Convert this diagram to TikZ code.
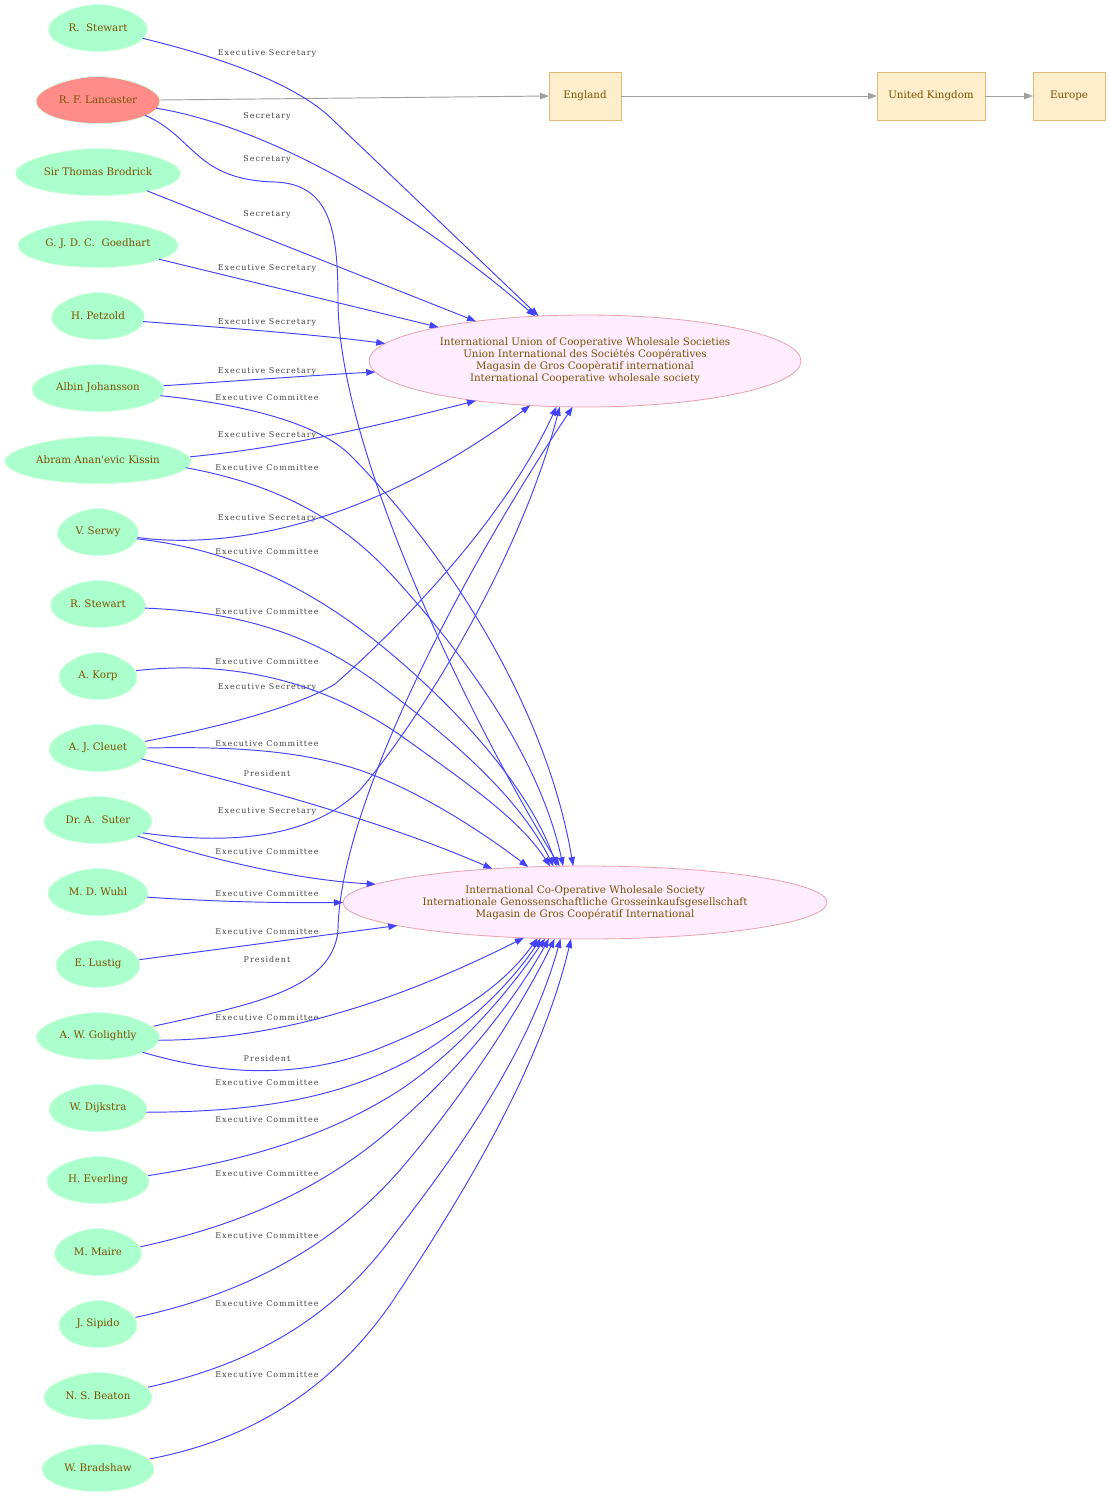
\documentclass[tikz,border=0pt]{standalone}
\usepackage{fontspec}
\setmainfont{DejaVu Serif}
\newfontfamily\nfont[Ligatures=TeXOff]{DejaVu Serif}
\newfontfamily\efont[Ligatures=TeXOff,LetterSpace=12]{DejaVu Serif}
\usetikzlibrary{arrows.meta,shapes.geometric,backgrounds,calc}
\definecolor{mint}{HTML}{AAFFCC}
\definecolor{salmon}{HTML}{FF8C88}
\definecolor{eggline}{HTML}{D6FFE0}
\definecolor{txt}{HTML}{7A5200}
\definecolor{lblc}{HTML}{444444}
\definecolor{eblue}{HTML}{4242FF}
\definecolor{orgfill}{HTML}{FFECFF}
\definecolor{orgline}{HTML}{E8A2AA}
\definecolor{boxfill}{HTML}{FFEECC}
\definecolor{boxline}{HTML}{E4B878}
\definecolor{gedge}{HTML}{A0A0A0}
\tikzset{
 pers/.style={ellipse, minimum width=#1, minimum height=47pt, inner sep=0pt, outer sep=0pt, text=txt, font=\nfont\fontsize{10.3}{12}\selectfont},
 org/.style={ellipse, draw=orgline, fill=orgfill, line width=0.8pt, inner sep=0pt, outer sep=0pt, text=txt, align=center, font=\nfont\fontsize{10.3}{12}\selectfont},
 geo/.style={rectangle, draw=boxline, fill=boxfill, line width=0.8pt, minimum height=48pt, inner sep=0pt, outer sep=0pt, text=txt, font=\nfont\fontsize{10.3}{12}\selectfont},
 elbl/.style={text=lblc, font=\efont\fontsize{8}{9}\selectfont, inner sep=0pt},
 rel/.style={draw=eblue, line width=0.95pt, -{Triangle[length=9pt,width=6.5pt]}},
 grel/.style={draw=gedge, line width=0.95pt, -{Triangle[length=9pt,width=6.5pt]}},
}
\newcommand\drawegg[2]{%
  \path[fill=#2,draw=eggline,line width=0.8pt] let \p1=(#1.center), \p2=(#1.east), \n1={\x2-\x1} in
    (\x1,{\y1-23.5pt})
    .. controls ({\x1+0.58*\n1},{\y1-23.5pt}) and ({\x1+\n1},{\y1-0.58*23.5pt}) .. ({\x1+\n1},{\y1-0.05*23.5pt})
    .. controls ({\x1+\n1},{\y1+0.5*23.5pt}) and ({\x1+0.42*\n1},{\y1+23.5pt}) .. (\x1,{\y1+23.5pt})
    .. controls ({\x1-0.42*\n1},{\y1+23.5pt}) and ({\x1-\n1},{\y1+0.5*23.5pt}) .. ({\x1-\n1},{\y1-0.05*23.5pt})
    .. controls ({\x1-\n1},{\y1-0.58*23.5pt}) and ({\x1-0.58*\n1},{\y1-23.5pt}) .. cycle;
}
\begin{document}
\frenchspacing
\begin{tikzpicture}[x=1pt,y=-1pt]
\useasboundingbox (0,0) rectangle (1109,1499);
% people
\node[pers=99pt]  (rsa)  at (98,28)   {R.~~Stewart};
\node[pers=124pt] (lan)  at (98,100)  {R. F. Lancaster};
\node[pers=165pt] (brod) at (98,172)  {Sir Thomas Brodrick};
\node[pers=160pt] (goed) at (98,244)  {G. J. D. C.~~Goedhart};
\node[pers=93pt]  (petz) at (98,316)  {H. Petzold};
\node[pers=132pt] (joh)  at (98,388)  {Albin Johansson};
\node[pers=186pt] (kis)  at (98,460)  {Abram Anan'evic Kissin};
\node[pers=81pt]  (ser)  at (98,532)  {V. Serwy};
\node[pers=95pt]  (rsb)  at (98,604)  {R. Stewart};
\node[pers=78pt]  (korp) at (98,676)  {A. Korp};
\node[pers=98pt]  (cle)  at (98,748)  {A. J. Cleuet};
\node[pers=108pt] (sut)  at (98,820)  {Dr. A.~~Suter};
\node[pers=100pt] (wuhl) at (98,892)  {M. D. Wuhl};
\node[pers=84pt]  (lus)  at (98,964)  {E. Lustig};
\node[pers=123pt] (gol)  at (98,1036) {A. W. Golightly};
\node[pers=98pt]  (dij)  at (98,1108) {W. Dijkstra};
\node[pers=102pt] (eve)  at (98,1180) {H. Everling};
\node[pers=87pt]  (mai)  at (98,1252) {M. Maire};
\node[pers=78pt]  (sip)  at (98,1324) {J. Sipido};
\node[pers=108pt] (bea)  at (98,1396) {N. S. Beaton};
\node[pers=112pt] (bra)  at (98,1468) {W. Bradshaw};
\begin{scope}[on background layer]
\drawegg{rsa}{mint}\drawegg{lan}{salmon}\drawegg{brod}{mint}\drawegg{goed}{mint}
\drawegg{petz}{mint}\drawegg{joh}{mint}\drawegg{kis}{mint}\drawegg{ser}{mint}
\drawegg{rsb}{mint}\drawegg{korp}{mint}\drawegg{cle}{mint}\drawegg{sut}{mint}
\drawegg{wuhl}{mint}\drawegg{lus}{mint}\drawegg{gol}{mint}\drawegg{dij}{mint}
\drawegg{eve}{mint}\drawegg{mai}{mint}\drawegg{sip}{mint}\drawegg{bea}{mint}
\drawegg{bra}{mint}
\end{scope}
% organisations
\node[org, minimum width=432pt, minimum height=92pt] (iu) at (585,361)
  {International Union of Cooperative Wholesale Societies\\Union International des Sociétés Coopératives\\Magasin de Gros Coopèratif international\\International Cooperative wholesale society};
\node[org, minimum width=484pt, minimum height=73pt] (icws) at (585,902.5)
  {International Co-Operative Wholesale Society\\Internationale Genossenschaftliche Grosseinkaufsgesellschaft\\Magasin de Gros Coopératif International};
% places
\node[geo, minimum width=72pt]  (eng) at (585,96)   {England};
\node[geo, minimum width=108pt] (uk)  at (931,96)   {United Kingdom};
\node[geo, minimum width=72pt]  (eur) at (1069,96)  {Europe};
% edge labels
\node[elbl] (l1)  at (267,53)   {Executive Secretary};
\node[elbl] (l2)  at (267,116)  {Secretary};
\node[elbl] (l3)  at (267,159)  {Secretary};
\node[elbl] (l4)  at (267,214)  {Secretary};
\node[elbl] (l5)  at (267,268)  {Executive Secretary};
\node[elbl] (l6)  at (267,322)  {Executive Secretary};
\node[elbl] (l7)  at (267,371)  {Executive Secretary};
\node[elbl] (l8)  at (267,398)  {Executive Committee};
\node[elbl] (l9)  at (267,435)  {Executive Secretary};
\node[elbl] (l10) at (267,468)  {Executive Committee};
\node[elbl] (l11) at (267,518)  {Executive Secretary};
\node[elbl] (l12) at (267,552)  {Executive Committee};
\node[elbl] (l13) at (267,612)  {Executive Committee};
\node[elbl] (l14) at (267,662)  {Executive Committee};
\node[elbl] (l15) at (267,687)  {Executive Secretary};
\node[elbl] (l16) at (267,744)  {Executive Committee};
\node[elbl] (l17) at (267,774)  {President};
\node[elbl] (l18) at (267,811)  {Executive Secretary};
\node[elbl] (l19) at (267,852)  {Executive Committee};
\node[elbl] (l20) at (267,894)  {Executive Committee};
\node[elbl] (l21) at (267,932)  {Executive Committee};
\node[elbl] (l22) at (267,960)  {President};
\node[elbl] (l23) at (267,1018) {Executive Committee};
\node[elbl] (l24) at (267,1059) {President};
\node[elbl] (l25) at (267,1083) {Executive Committee};
\node[elbl] (l26) at (267,1120) {Executive Committee};
\node[elbl] (l27) at (267,1174) {Executive Committee};
\node[elbl] (l28) at (267,1236) {Executive Committee};
\node[elbl] (l29) at (267,1304) {Executive Committee};
\node[elbl] (l30) at (267,1375) {Executive Committee};
% place chain
\draw[grel] (lan.0) -- (eng.west);
\draw[grel] (eng) -- (uk);
\draw[grel] (uk) -- (eur);
% relations
\draw[rel] (rsa.-13) .. controls (240,62) and (303,90) .. (333,120) -- (iu.136);
\draw[rel] (lan.-8) .. controls (260,125) and (400,200) .. (iu.138);
\draw[rel] (lan.-18) .. controls (195,137) and (195,180) .. (275,182) .. controls (330,184) and (338,230) .. (338,300) .. controls (338,450) and (470,720) .. (icws.125);
\draw[rel] (brod.-21) -- (iu.160);
\draw[rel] (goed.-14) -- (iu.167);
\draw[rel] (petz.-7) .. controls (230,328) and (320,335) .. (iu.175);
\draw[rel] (joh.2) .. controls (250,380) and (320,375) .. (iu.183);
\draw[rel] (joh.-7) .. controls (250,405) and (320,425) .. (350,455) .. controls (440,545) and (545,700) .. (icws.108);
\draw[rel] (kis.2) .. controls (260,450) and (330,438) .. (iu.200);
\draw[rel] (kis.-5) .. controls (280,485) and (340,520) .. (390,573) .. controls (470,660) and (540,760) .. (icws.121);
\draw[rel] (ser.-8) .. controls (250,552) and (390,510) .. (iu.219);
\draw[rel] (ser.-10) .. controls (240,550) and (320,595) .. (383,647) .. controls (460,710) and (530,790) .. (icws.128);
\draw[rel] (rsb.-5) .. controls (250,612) and (320,640) .. (380,685) .. controls (460,745) and (520,800) .. (icws.131);
\draw[rel] (korp.8) .. controls (230,660) and (320,680) .. (400,735) .. controls (470,785) and (520,820) .. (icws.134);
\draw[rel] (cle.8) .. controls (230,725) and (300,705) .. (335,684) .. controls (380,645) and (500,530) .. (iu.238);
\draw[rel] (cle.0) .. controls (240,746) and (300,752) .. (350,767) .. controls (410,785) and (480,830) .. (icws.148);
\draw[rel] (cle.-14) .. controls (250,785) and (380,820) .. (icws.160);
\draw[rel] (sut.-16) .. controls (250,848) and (320,830) .. (360,790) .. controls (420,720) and (520,560) .. (iu.241);
\draw[rel] (sut.-22) .. controls (220,862) and (300,880) .. (icws.175);
\draw[rel] (wuhl.-6) .. controls (220,902) and (280,903) .. (icws.180);
\draw[rel] (lus.6) -- (icws.187);
\draw[rel] (gol.10) .. controls (250,1005) and (333,990) .. (338,930) .. controls (340,800) and (470,560) .. (iu.255);
\draw[rel] (gol.-4) .. controls (280,1040) and (400,1000) .. (icws.210);
\draw[rel] (gol.-20) .. controls (220,1075) and (300,1080) .. (380,1048) .. controls (450,1020) and (500,990) .. (icws.-143);
\draw[rel] (dij.-5) .. controls (250,1112) and (330,1100) .. (400,1065) .. controls (460,1035) and (510,985) .. (icws.-141);
\draw[rel] (eve.5) .. controls (250,1160) and (330,1135) .. (400,1090) .. controls (460,1050) and (510,990) .. (icws.-138);
\draw[rel] (mai.7) .. controls (240,1225) and (320,1190) .. (390,1130) .. controls (460,1070) and (515,1000) .. (icws.-135);
\draw[rel] (sip.10) .. controls (240,1295) and (330,1250) .. (400,1170) .. controls (460,1100) and (520,1010) .. (icws.-130);
\draw[rel] (bea.10) .. controls (250,1365) and (330,1320) .. (390,1240) .. controls (460,1150) and (530,1050) .. (icws.-124);
\draw[rel] (bra.10) .. controls (250,1440) and (330,1390) .. (390,1305) .. controls (460,1200) and (540,1070) .. (icws.-111);
\end{tikzpicture}
\end{document}
